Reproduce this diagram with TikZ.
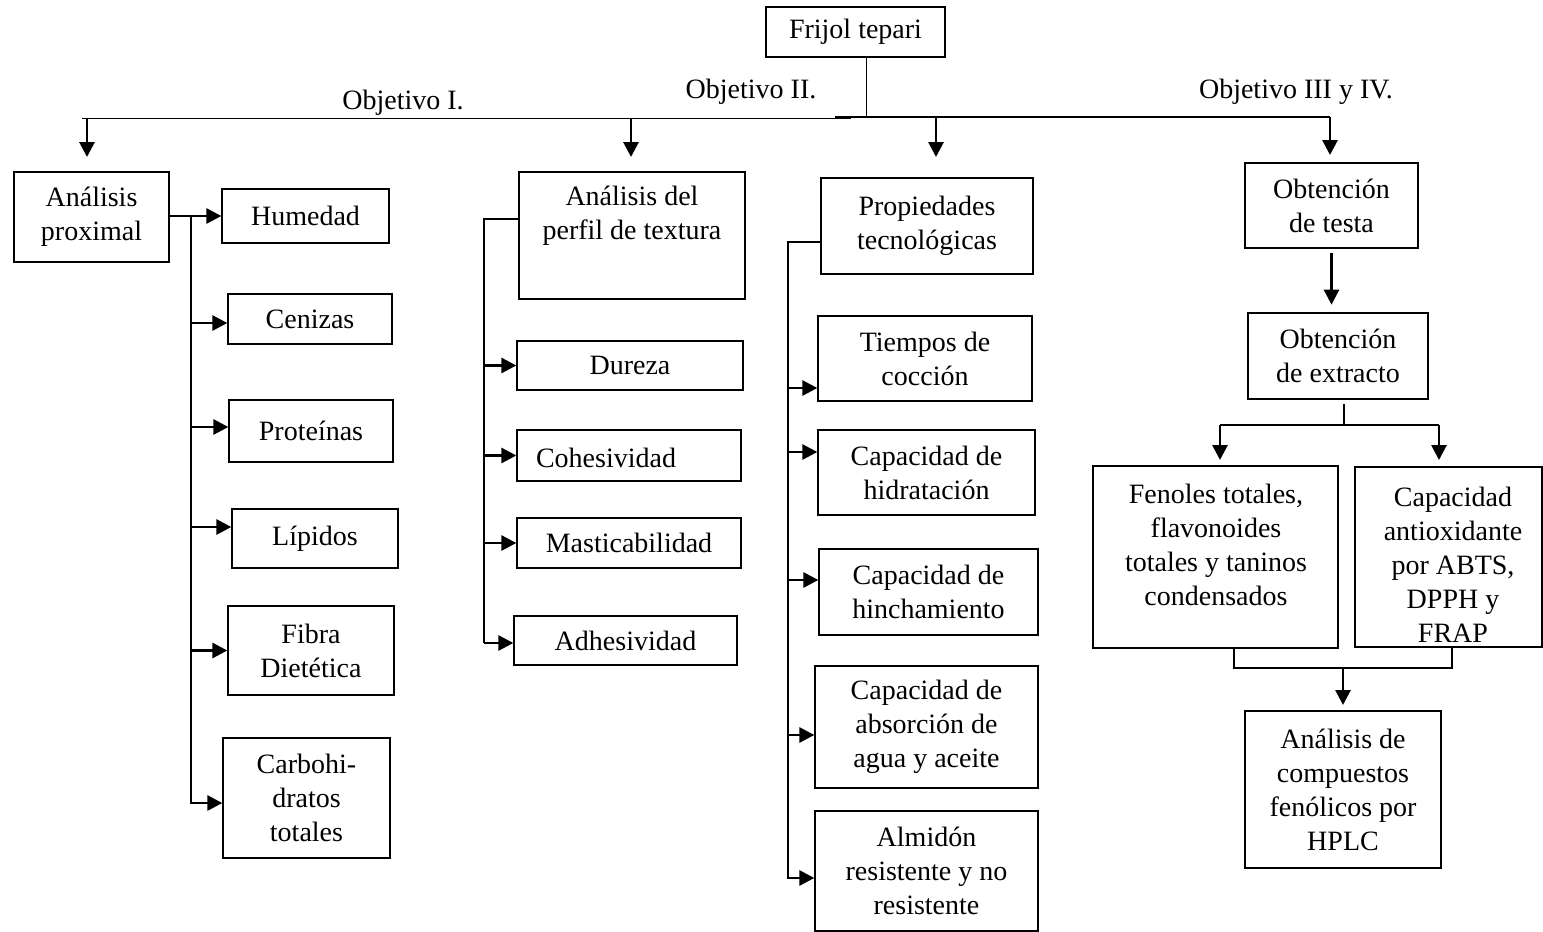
\documentclass[tikz,border=0pt]{standalone}
\usepackage{fontspec}
\setmainfont{Liberation Serif}
\usetikzlibrary{arrows.meta}
\tikzset{
  box/.style={draw, line width=1.3pt, inner sep=0pt, align=center, font=\fontsize{28}{34}\selectfont},
  txt/.style={inner sep=0pt, align=center, font=\fontsize{28}{34}\selectfont},
  ln/.style={line width=1.3pt},
  arr/.style={line width=2.8pt, -{Triangle[length=15pt 0,width=15pt 0]}},
}
\newcommand\bx[6]{\node[box,minimum width={#4pt-#2pt},minimum height={#5pt-#3pt}] (#1) at ({(#2+#4)/2},{(#3+#5)/2}) {#6};}
\begin{document}
\begin{tikzpicture}[x=1pt,y=-1pt]
\useasboundingbox (0,0) rectangle (1543,932);
% top
\bx{fri}{766}{7}{945}{57}{Frijol tepari}
\node[txt] (o1) at (403,103) {Objetivo I.};
\node[txt] (o2) at (751,92) {Objetivo II.};
\node[txt] (o3) at (1296,92) {Objetivo III y IV.};
\coordinate (hL) at (82,118.5);
\coordinate (hM) at (851,118.5);
\coordinate (hN) at (835,117);
\coordinate (hR) at (1330,117);
\draw[ln] ([xshift=11pt]fri.south) -- ([xshift=11pt]fri.south |- hR);
\draw[ln] (hL) -- (hM);
\draw[ln] (hN) -- (hR);
\coordinate (d1) at (87,118);
\coordinate (d2) at (631,118);
\coordinate (d3) at (936,118);
\draw[arr] (d1) -- ++(0,39);
\draw[arr] (d2) -- ++(0,39);
\draw[arr] (d3) -- ++(0,39);
\draw[arr] (hR) -- ++(0,38);

% column 1
\bx{prox}{14}{172}{169}{262}{Análisis\\proximal}
\bx{hum}{222}{189}{389}{243}{Humedad}
\bx{cen}{228}{294}{392}{344}{Cenizas}
\bx{pro}{229}{400}{393}{462}{Proteínas}
\bx{lip}{232}{509}{398}{568}{Lípidos}
\bx{fib}{228}{606}{394}{695}{Fibra\\Dietética}
\bx{car}{223}{738}{390}{858}{Carbohi-\\dratos\\totales}
\draw[arr] (prox.east |- hum.west) -- (hum.west);
\coordinate (t1) at (191,216);
\draw[ln] (t1) -- (191,804);
\draw[arr] (t1 |- 0,323) -- (cen.west |- 0,323);
\draw[arr] (t1 |- 0,427) -- (pro.west |- 0,427);
\draw[arr] (t1 |- 0,527) -- (lip.west |- 0,527);
\draw[arr] (t1 |- fib.west) -- (fib.west);
\draw[arr] (t1 |- 0,803) -- (car.west |- 0,803);

% column 2
\bx{perf}{519}{172}{745}{299}{}
\node[txt] (perft) at (632,216) {Análisis del\\perfil de textura};
\bx{dur}{517}{341}{743}{390}{Dureza}
\bx{coh}{517}{430}{741}{481}{}
\node[txt] (coht) at (606,458) {Cohesividad};
\bx{mas}{517}{518}{741}{568}{Masticabilidad}
\bx{adh}{514}{616}{737}{665}{Adhesividad}
\coordinate (t2) at (484,219);
\draw[ln] (perf.west |- t2) -- (t2) -- (484,643);
\draw[arr] (t2 |- dur.west) -- (dur.west);
\draw[arr] (t2 |- coh.west) -- (coh.west);
\draw[arr] (t2 |- mas.west) -- (mas.west);
\draw[arr] (t2 |- 0,643) -- (adh.west |- 0,643);

% column 3
\bx{prop}{821}{178}{1033}{274}{Propiedades\\tecnológicas}
\bx{tie}{818}{316}{1032}{401}{Tiempos de\\cocción}
\bx{hid}{818}{430}{1035}{515}{Capacidad de\\hidratación}
\bx{hin}{819}{549}{1038}{635}{Capacidad de\\hinchamiento}
\bx{abs}{815}{666}{1038}{788}{Capacidad de\\absorción de\\agua y aceite}
\bx{alm}{815}{811}{1038}{931}{Almidón\\resistente y no\\resistente}
\coordinate (t3) at (788,242);
\draw[ln] (prop.west |- t3) -- (t3) -- (788,879);
\draw[arr] (t3 |- 0,388) -- (tie.west |- 0,388);
\draw[arr] (t3 |- 0,452) -- (hid.west |- 0,452);
\draw[arr] (t3 |- 0,580) -- (hin.west |- 0,580);
\draw[arr] (t3 |- 0,735) -- (abs.west |- 0,735);
\draw[arr] (t3 |- 0,878) -- (alm.west |- 0,878);

% column 4
\bx{tes}{1245}{163}{1418}{248}{Obtención\\de testa}
\bx{ext}{1248}{313}{1428}{399}{Obtención\\de extracto}
\draw[arr] ([yshift=-4pt]tes.south) -- ++(0,52);
\coordinate (e1) at (1344,404);
\coordinate (e2) at (1344,425);
\coordinate (eL) at (1220,425);
\coordinate (eR) at (1439,425);
\draw[ln] (e1) -- (e2);
\draw[ln] (eL) -- (eR);
\bx{fen}{1093}{466}{1338}{648}{}
\node[txt] (fent) at (1216,545) {Fenoles totales,\\flavonoides\\totales y taninos\\condensados};
\bx{cap}{1355}{467}{1542}{647}{}
\node[txt] (capt) at (1453,565) {Capacidad\\antioxidante\\por ABTS,\\DPPH y\\FRAP};
\draw[arr] (eL) -- ++(0,35);
\draw[arr] (eR) -- ++(0,35);
\bx{hplc}{1245}{711}{1441}{868}{Análisis de\\compuestos\\fenólicos por\\HPLC}
\coordinate (b1) at (1234,668);
\coordinate (b2) at (1452,668);
\draw[ln] (fen.south -| b1) -- (b1) -- (b2) -- (cap.south -| b2);
\draw[arr] (1343,668) -- (hplc.north |- 0,705);
\end{tikzpicture}
\end{document}
